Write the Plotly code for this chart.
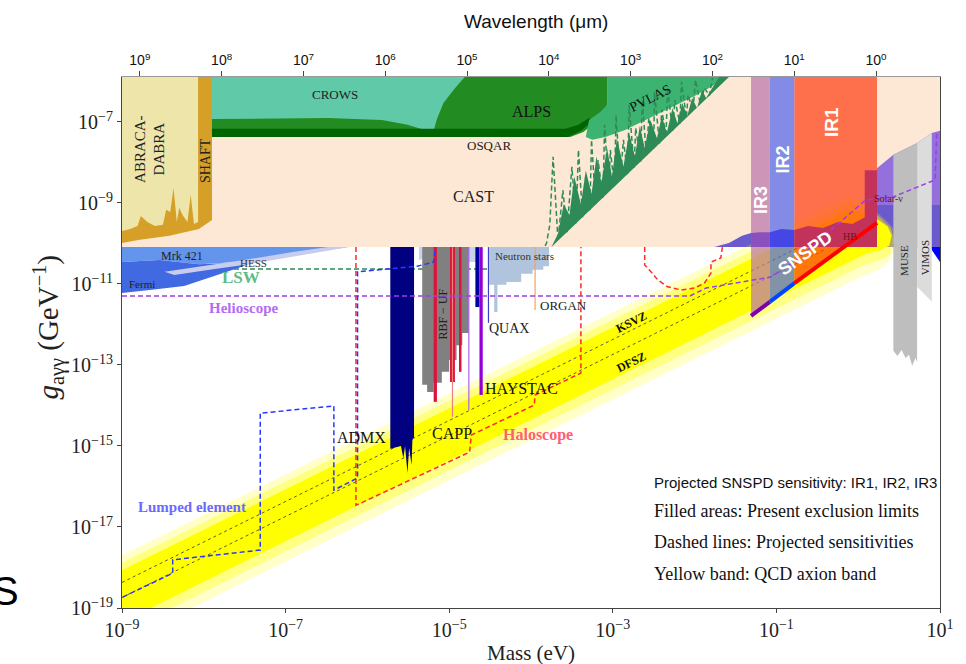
import plotly.graph_objects as go

# ---------------- data (log10 of mass in eV, log10 of coupling in GeV^-1) ----------------
TOP = -5.89
CAST_LIMIT = -10.09

CAST_M = [-9, 1, 1, -9]
CAST_G = [CAST_LIMIT, CAST_LIMIT, TOP, TOP]

SHAFT_M = [-9, -7.90, -7.90, -8.06, -8.42, -8.78, -9]
SHAFT_G = [TOP, TOP, -9.42, -9.64, -9.81, -9.91, -9.99]

ABRA_M = [-9, -8.07, -8.07, -8.12, -8.16, -8.20, -8.26, -8.30, -8.33, -8.37, -8.41, -8.46, -8.50, -8.60, -8.69, -8.77, -8.81, -8.90, -9.00]
ABRA_G = [TOP, TOP, -9.47, -9.52, -8.80, -9.47, -9.30, -9.12, -9.47, -8.63, -9.22, -9.17, -9.54, -9.57, -9.47, -9.32, -9.57, -9.64, -9.69]

CROWS_M = [-7.90, -4.5, -4.5, -7.90]
CROWS_G = [-7.37, -7.37, TOP, TOP]

ALPS_M = [-7.90, -7.90, -6.48, -5.82, -5.51, -5.27, -5.19, -5.15, -5.07, -4.94, -4.81, -3.07, -3.07, -3.21, -3.36, -3.52]
ALPS_G = [-7.37, -6.93, -6.90, -6.95, -7.07, -7.22, -7.22, -6.93, -6.53, -6.19, TOP, TOP, -6.58, -7.00, -7.25, -7.37]

OSQAR_M = [-7.90, -3.58, -3.42, -3.29, -3.25, -3.39, -3.55, -7.90]
OSQAR_G = [-7.17, -7.17, -7.07, -6.90, -6.98, -7.22, -7.37, -7.37]

PVLAS_M = [-3.29, -3.15, -3.07, -3.07, -1.64, -1.78, -2.00, -2.24, -2.55, -2.85, -3.09, -3.25, -3.33]
PVLAS_G = [-6.95, -6.75, -6.58, TOP, TOP, -6.11, -6.36, -6.60, -6.90, -7.20, -7.37, -7.44, -7.37]

LSWF_M = [-3.75, -1.58, -1.70, -1.86, -1.91, -1.97, -2.03, -2.09, -2.15, -2.21, -2.27, -2.34, -2.40, -2.46, -2.54, -2.61,
          -2.67, -2.73, -2.80, -2.87, -2.95, -3.01, -3.07, -3.14, -3.20, -3.26, -3.33, -3.39, -3.47, -3.53, -3.60, -3.67]
LSWF_G = [-10.09, TOP, TOP, -6.41, -6.21, -6.66, -6.41, -6.85, -6.53, -7.03, -6.66, -7.27, -6.85, -7.40, -6.95, -7.64,
          -7.10, -7.85, -7.27, -8.10, -7.40, -8.35, -7.64, -8.50, -7.85, -8.78, -8.20, -9.03, -8.35, -9.30, -9.03, -9.76]

LSW_M = [-9, -4.42, -4.18, -4.00, -3.88, -3.81, -3.77,
         -3.73, -3.67, -3.61, -3.56, -3.50, -3.45, -3.42, -3.37, -3.33, -3.28, -3.26, -3.21, -3.18, -3.12,
         -3.10, -3.05, -3.03, -2.98, -2.96, -2.91, -2.87, -2.82, -2.80, -2.74, -2.72, -2.66, -2.64, -2.59,
         -2.56, -2.50, -2.49, -2.43, -2.40, -2.35, -2.33, -2.27, -2.24, -2.18, -2.16, -2.10, -2.08, -2.02,
         -1.99, -1.93, -1.88, -1.82, -1.78]
LSW_G = [-10.63, -10.63, -10.58, -10.46, -10.28, -9.99, -9.54,
         -7.86, -9.93, -8.68, -9.72, -8.11, -9.51, -7.69, -9.35, -8.31, -9.18, -7.44, -9.04, -7.94, -8.87,
         -7.07, -8.73, -7.69, -8.60, -6.83, -8.46, -7.44, -8.29, -6.58, -8.13, -7.15, -7.98, -6.46, -7.84,
         -6.90, -7.66, -6.26, -7.53, -6.70, -7.37, -6.16, -7.22, -6.46, -7.04, -6.01, -6.89, -6.33, -6.73,
         -5.96, -6.56, -6.16, -6.35, -5.91]

TEL_A_M = [-1.76, -1.58, -1.42, -1.31, -1.31]
TEL_A_G = [-10.09, -9.99, -9.81, -9.74, -10.09]
TEL_U_M = [0.23, 0.43, 0.72, 0.90, 1.0, 1.0, 0.23]
TEL_U_G = [-8.14, -7.81, -7.52, -7.27, -7.22, -9.05, -9.05]
TEL_L_M = [0.23, 1.0, 1.0, 0.23]
TEL_L_G = [-9.05, -9.05, -10.09, -10.09]
TEL_B_M = [0.89, 1.0, 1.0, 0.90]
TEL_B_G = [-10.09, -10.09, -10.46, -10.16]
TEL_IR3_M = [-1.31, -1.20, -1.08, -1.08, -1.31]
TEL_IR3_G = [-9.74, -9.72, -9.72, -10.09, -10.09]
TEL_IR2_M = [-1.08, -0.94, -0.78, -0.78, -1.08]
TEL_IR2_G = [-9.72, -9.64, -9.67, -10.09, -10.09]
TEL_IR1_M = [-0.78, -0.61, -0.43, -0.25, -0.07, 0.08, 0.08, 0.23, 0.23, -0.78]
TEL_IR1_G = [-9.67, -9.57, -9.62, -9.47, -9.52, -9.35, -8.19, -8.19, -10.09, -10.09]

MRK_M = [-9, -6.24, -6.97, -7.57, -8.06, -8.54, -9]
MRK_G = [-10.09, -10.09, -10.31, -10.46, -10.51, -10.41, -10.46]
FERMI_M = [-9, -8.54, -8.06, -7.57, -7.39, -7.57, -7.87, -8.24, -8.66, -9]
FERMI_G = [-10.46, -10.41, -10.51, -10.46, -10.46, -10.60, -10.80, -11.05, -11.15, -11.22]
HESS_M = [-6.22, -6.85, -7.45, -7.93, -8.36, -8.48, -8.00, -7.51, -6.91, -6.48]
HESS_G = [-10.09, -10.31, -10.51, -10.65, -10.78, -10.70, -10.56, -10.41, -10.21, -10.09]

QCD_OUT_M = [-9, -0.1, 0.15, 0.30, 0.42, 0.46, 0.40, 0.25, 0.0, -9]
QCD_OUT_G = [-17.70, -8.80, -9.10, -9.35, -9.60, -9.95, -10.40, -10.65, -10.85, -19.85]
QCD_MID_M = [-9, -0.1, 0.12, 0.28, 0.40, 0.44, 0.38, 0.20, 0.05, -9]
QCD_MID_G = [-17.88, -8.98, -9.15, -9.38, -9.62, -9.95, -10.30, -10.45, -10.55, -19.60]
QCD_CORE_M = [-9, -0.1, 0.10, 0.25, 0.36, 0.41, 0.38, 0.25, 0.10, -9]
QCD_CORE_G = [-18.07, -9.17, -9.27, -9.42, -9.58, -9.80, -10.05, -10.18, -10.25, -19.35]
KSVZ_M = [-9, -0.4]
KSVZ_G = [-18.37, -9.77]
DFSZ_M = [-9, -0.4]
DFSZ_G = [-18.74, -10.14]

NS_M = [-4.51, -3.78, -3.78, -3.85, -3.85, -3.98, -3.98, -4.12, -4.12, -4.30, -4.30, -4.41, -4.41, -4.45, -4.45, -4.51]
NS_G = [-10.09, -10.09, -10.56, -10.56, -10.65, -10.65, -10.75, -10.75, -10.95, -10.95, -11.02, -11.02, -11.69, -11.69, -11.02, -11.02]
LB_M = [-5.37, -4.67, -4.67, -4.79, -4.85, -5.03, -5.15, -5.27, -5.37]
LB_G = [-10.09, -10.09, -10.46, -10.46, -10.31, -10.36, -10.46, -10.36, -10.41]

RBF_M = [-5.33, -4.76, -4.76, -4.84, -4.84, -4.91, -4.91, -5.00, -5.00, -5.09, -5.09, -5.19, -5.19, -5.27, -5.27, -5.33]
RBF_G = [-10.09, -10.09, -12.21, -12.21, -12.51, -12.51, -12.88, -12.88, -13.17, -13.17, -13.44, -13.44, -13.67, -13.67, -13.49, -13.49]

ADMX_M = [-5.72, -5.43, -5.43, -5.45, -5.46, -5.49, -5.51, -5.54, -5.56, -5.59, -5.72]
ADMX_G = [-10.09, -10.09, -14.78, -14.85, -15.47, -15.05, -15.67, -15.00, -15.30, -15.00, -15.07]

CAPP_LEFT = [-5.19, -4.99, -4.88]
CAPP_RIGHT = [-5.15, -4.93, -4.85]
CAPP_BOTTOM = [-13.91, -13.42, -13.17]
CAPP_THIN = (-4.96, -14.28)
VIOLET_THIN = (-4.76, -14.11)
HAYSTAC_BAR = (-4.63, -4.59, -13.74)
NAVY_BAR = (-4.68, -4.63, -11.57)
QUAX_LINE = (-4.52, -11.96)
ORGAN_LINE = (-3.95, -11.64)

LUMP_M = [-8.99, -8.38, -8.38, -7.31, -7.31, -6.41, -6.41, -6.12, -6.12, -5.39, -5.19, -5.17]
LUMP_G = [-18.73, -18.14, -17.81, -17.57, -14.19, -14.01, -16.09, -15.79, -10.70, -10.56, -10.46, -10.09]
HALO_A_M = [-6.14, -6.14, -6.08, -4.75, -4.73, -3.96, -3.95, -3.39, -3.39]
HALO_A_G = [-10.09, -16.46, -16.41, -15.15, -14.73, -13.99, -13.74, -13.20, -10.09]
HALO_B_M = [-2.61, -2.61, -2.52, -2.45, -2.33, -2.16, -2.00, -1.88, -1.80, -1.80, -1.68, -1.66]
HALO_B_G = [-10.09, -10.53, -10.73, -10.90, -11.07, -11.15, -11.10, -10.98, -10.73, -10.46, -10.36, -10.09]
HELIO_M = [-9, -2.06, -1.86, -1.52, -1.07, -0.79, 0.09, 0.43, 0.94, 0.96]
HELIO_G = [-11.30, -11.30, -11.10, -10.98, -10.83, -10.46, -8.93, -8.85, -8.43, -7.27]

IR3_M = [-1.31, -1.08, -1.08, -1.31]
IR3_G = [TOP, TOP, -11.44, -11.79]
IR2_M = [-1.08, -0.78, -0.78, -1.08]
IR2_G = [TOP, TOP, -10.98, -11.44]
IR1_M = [-0.78, 0.23, 0.23, -0.78]
IR1_G = [TOP, TOP, -9.49, -10.98]

MUSE_M = [0.43, 0.72, 0.72, 0.70, 0.66, 0.62, 0.58, 0.53, 0.48, 0.43]
MUSE_G = [-7.81, -7.52, -12.93, -12.83, -13.02, -12.75, -12.83, -12.63, -12.78, -12.65]
VIMOS_M = [0.72, 0.90, 0.90, 0.72]
VIMOS_G = [-7.52, -7.27, -11.44, -11.07]

X_TICKS = [-9, -7, -5, -3, -1, 1]
Y_TICKS = [-19, -17, -15, -13, -11, -9, -7]
WL_TICKS = [9, 8, 7, 6, 5, 4, 3, 2, 1, 0]

# ---------------- figure ----------------
E = lambda a: [10.0 ** v for v in a]
fig = go.Figure()


def area(ms, gs, color):
    fig.add_trace(go.Scatter(x=E(ms), y=E(gs), mode="lines", fill="toself", fillcolor=color,
                             line=dict(width=0), hoverinfo="skip", showlegend=False))


def path(ms, gs, color, width=1.6, dash="solid"):
    fig.add_trace(go.Scatter(x=E(ms), y=E(gs), mode="lines",
                             line=dict(color=color, width=width, dash=dash),
                             hoverinfo="skip", showlegend=False))


def rect(l, r, b, color):
    area([l, r, r, l], [CAST_LIMIT, CAST_LIMIT, b, b], color)


area(CAST_M, CAST_G, "#FCE8D4")
area(SHAFT_M, SHAFT_G, "#D6A028")
area(ABRA_M, ABRA_G, "#EDE5AA")
area(CROWS_M, CROWS_G, "#60CAA8")
area(ALPS_M, ALPS_G, "#228B22")
area(OSQAR_M, OSQAR_G, "#006400")
area(PVLAS_M, PVLAS_G, "#3CB371")
area(LSWF_M, LSWF_G, "#2E8B57")
path(LSW_M, LSW_G, "#2E8B57", 1.5, "5px,3px")

area(TEL_A_M, TEL_A_G, "#6A5ACD")
area(TEL_L_M, TEL_L_G, "#6A5ACD")
area(TEL_B_M, TEL_B_G, "#0000FF")

area(MRK_M, MRK_G, "#6495ED")
area(FERMI_M, FERMI_G, "#4169E1")
area(HESS_M, HESS_G, "#C8CDF0")

area(QCD_OUT_M, QCD_OUT_G, "rgba(255,255,0,0.22)")
area(QCD_MID_M, QCD_MID_G, "rgba(255,255,0,0.35)")
area(QCD_CORE_M, QCD_CORE_G, "#FFFF00")
path(KSVZ_M, KSVZ_G, "#333333", 0.8, "dot")
path(DFSZ_M, DFSZ_G, "#333333", 0.8, "dot")
area(TEL_U_M, TEL_U_G, "#9370DB")

area(NS_M, NS_G, "#B0C4DE")
area(LB_M, LB_G, "#C5D4EA")
area(RBF_M, RBF_G, "#808080")
area(ADMX_M, ADMX_G, "#000080")
for l, r, b in zip(CAPP_LEFT, CAPP_RIGHT, CAPP_BOTTOM):
    rect(l, r, b, "#DC143C")
path([CAPP_THIN[0]] * 2, [CAST_LIMIT, CAPP_THIN[1]], "#F08080", 1.2)
path([VIOLET_THIN[0]] * 2, [CAST_LIMIT, VIOLET_THIN[1]], "#B060F0", 1.2)
rect(NAVY_BAR[0], NAVY_BAR[1], NAVY_BAR[2], "#0000A0")
rect(HAYSTAC_BAR[0], HAYSTAC_BAR[1], HAYSTAC_BAR[2], "#9400D3")
path([QUAX_LINE[0]] * 2, [CAST_LIMIT, QUAX_LINE[1]], "#3C3CD0", 1.2)
path([ORGAN_LINE[0]] * 2, [CAST_LIMIT, ORGAN_LINE[1]], "#F4A460", 1.2)

area(IR3_M, IR3_G, "rgba(185,115,174,0.7)")
area(IR2_M, IR2_G, "rgba(78,101,238,0.7)")
area(IR1_M, IR1_G, "rgba(255,61,17,0.7)")
area(TEL_IR3_M, TEL_IR3_G, "#8C50BE")
area(TEL_IR2_M, TEL_IR2_G, "#4646E6")
area(TEL_IR1_M, TEL_IR1_G, "#C3325A")
area(MUSE_M, MUSE_G, "#BEBEBE")
area(VIMOS_M, VIMOS_G, "#DCDCDC")

path(HELIO_M, HELIO_G, "#9B40E8", 1.5, "5px,3px")
path(HALO_A_M, HALO_A_G, "#FF2A2A", 1.5, "5px,3px")
path(HALO_B_M, HALO_B_G, "#FF2A2A", 1.5, "5px,3px")
path(LUMP_M, LUMP_G, "#2838FF", 1.5, "5px,3px")

path(IR3_M[2:4][::-1], IR3_G[2:4][::-1], "#8000AA", 4)
path(IR2_M[2:4][::-1], IR2_G[2:4][::-1], "#0046FF", 4)
path(IR1_M[2:4][::-1], IR1_G[2:4][::-1], "#FF0000", 4)

# dummy trace so the wavelength axis is drawn
fig.add_trace(go.Scatter(x=[1e5], y=[1e-30], xaxis="x2", yaxis="y", mode="markers",
                         marker=dict(opacity=0), hoverinfo="skip", showlegend=False))

SERIF = "Liberation Serif"
SANS = "Liberation Sans"
LABELS = [
    ("CROWS", -6.40, -6.33, 13, "#222", 0, SERIF),
    ("ALPS", -4.00, -6.75, 16, "#111", 0, SERIF),
    ("OSQAR", -4.51, -7.59, 13, "#222", 0, SERIF),
    ("CAST", -4.70, -8.83, 16, "#222", 0, SERIF),
    ("PVLAS", -2.55, -6.41, 14, "#111", -27, SERIF),
    ("ABRACA-<br>DABRA", -8.66, -7.67, 15, "#222", -90, SERIF),
    ("SHAFT", -7.97, -7.96, 14, "#222", -90, SERIF),
    ("<b>IR3</b>", -1.19, -8.93, 18, "white", -90, SANS),
    ("<b>IR2</b>", -0.925, -7.94, 18, "white", -90, SANS),
    ("<b>IR1</b>", -0.32, -7.0, 19, "white", -90, SANS),
    ("<b>SNSPD</b>", -0.647, -10.23, 18, "white", -36, SANS),
    ("Mrk 421", -8.27, -10.31, 12, "#222", 0, SERIF),
    ("HESS", -7.39, -10.48, 11, "#333", 0, SERIF),
    ("Fermi", -8.76, -11.0, 11, "#222", 0, SERIF),
    ("<b>LSW</b>", -7.54, -10.83, 17, "#5DBB85", 0, SERIF),
    ("<b>Helioscope</b>", -7.51, -11.59, 15, "#B46CF2", 0, SERIF),
    ("Neutron stars", -4.08, -10.31, 11, "#333", 0, SERIF),
    ("QUAX", -4.27, -12.09, 14, "#222", 0, SERIF),
    ("ORGAN", -3.60, -11.52, 13, "#222", 0, SERIF),
    ("HAYSTAC", -4.12, -13.59, 16, "#111", 0, SERIF),
    ("CAPP", -4.97, -14.68, 16, "#111", 0, SERIF),
    ("ADMX", -6.07, -14.78, 16, "#111", 0, SERIF),
    ("RBF − UF", -5.08, -11.74, 12, "#222", -90, SERIF),
    ("<b>KSVZ</b>", -2.77, -11.94, 12, "#111", -26, SERIF),
    ("<b>DFSZ</b>", -2.77, -12.93, 12, "#111", -26, SERIF),
    ("<b>Haloscope</b>", -3.92, -14.73, 16, "#FF6070", 0, SERIF),
    ("<b>Lumped element</b>", -8.14, -16.51, 15, "#6A6AFF", 0, SERIF),
    ("Solar-ν", 0.37, -8.90, 10, "#701020", 0, SERIF),
    ("HB", -0.10, -9.84, 10, "#701020", 0, SERIF),
    ("MUSE", 0.56, -10.43, 11, "#222", -90, SERIF),
    ("VIMOS", 0.82, -10.36, 11, "#222", -90, SERIF),
]
ann = []
for t, xm, yg, s, c, a, f in LABELS:
    ann.append(dict(text=t, x=xm, y=yg, xref="x", yref="y", showarrow=False, textangle=a,
                    font=dict(size=s, color=c, family=f)))

NOTES = [
    ("Projected SNSPD sensitivity: IR1, IR2, IR3", 0.237, 15, SANS),
    ("Filled areas: Present exclusion limits", 0.183, 18, SERIF),
    ("Dashed lines: Projected sensitivities", 0.124, 18, SERIF),
    ("Yellow band: QCD axion band", 0.064, 18, SERIF),
]
for t, yp, s, f in NOTES:
    ann.append(dict(text=t, x=0.648, y=yp, xref="paper", yref="paper", xanchor="left", yanchor="middle",
                    showarrow=False, font=dict(size=s, color="#111", family=f)))

ann += [
    dict(text="Wavelength (μm)", x=0.506, y=1.128, xref="paper", yref="paper", showarrow=False,
         font=dict(size=19, color="#111", family=SANS)),
    dict(text="Mass (eV)", x=0.5, y=-0.112, xref="paper", yref="paper", showarrow=False,
         font=dict(size=21, color="#222", family=SERIF)),
    dict(text="<i>g</i><sub>aγγ</sub> (GeV<sup>−1</sup>)", x=-0.117, y=0.528, xref="paper", yref="paper",
         showarrow=False, textangle=-90, font=dict(size=29, color="#222", family=SERIF)),
    dict(text="S", x=-0.1235, y=-0.013, xref="paper", yref="paper", xanchor="right", showarrow=False,
         font=dict(size=40, color="black", family=SANS)),
]

fig.update_layout(
    width=966, height=664, margin=dict(l=122, r=18, t=77, b=56),
    plot_bgcolor="white", paper_bgcolor="white", showlegend=False,
    annotations=ann,
    xaxis=dict(type="log", range=[-9, 1], tickvals=E(X_TICKS),
               ticktext=["10<sup>−%d</sup>" % -v if v < 0 else "10<sup>%d</sup>" % v for v in X_TICKS],
               tickfont=dict(family=SERIF, size=20, color="#222"), ticks="outside", ticklen=4,
               showline=True, linecolor="#444", linewidth=1, mirror=True, showgrid=False, zeroline=False),
    xaxis2=dict(type="log", overlaying="x", side="top", anchor="y", range=[9.218, -0.782],
                tickvals=E(WL_TICKS), ticktext=["10<sup>%d</sup>" % v for v in WL_TICKS],
                tickfont=dict(family=SANS, size=14, color="#111"), ticks="outside", ticklen=5,
                showline=True, linecolor="#999", showgrid=False, zeroline=False),
    yaxis=dict(type="log", range=[-19, TOP], tickvals=E(Y_TICKS),
               ticktext=["10<sup>−%d</sup>" % -v for v in Y_TICKS],
               tickfont=dict(family=SERIF, size=20, color="#222"), ticks="outside", ticklen=4,
               showline=True, linecolor="#444", linewidth=1, mirror=True, showgrid=False, zeroline=False),
)

fig.write_html("out.html")
